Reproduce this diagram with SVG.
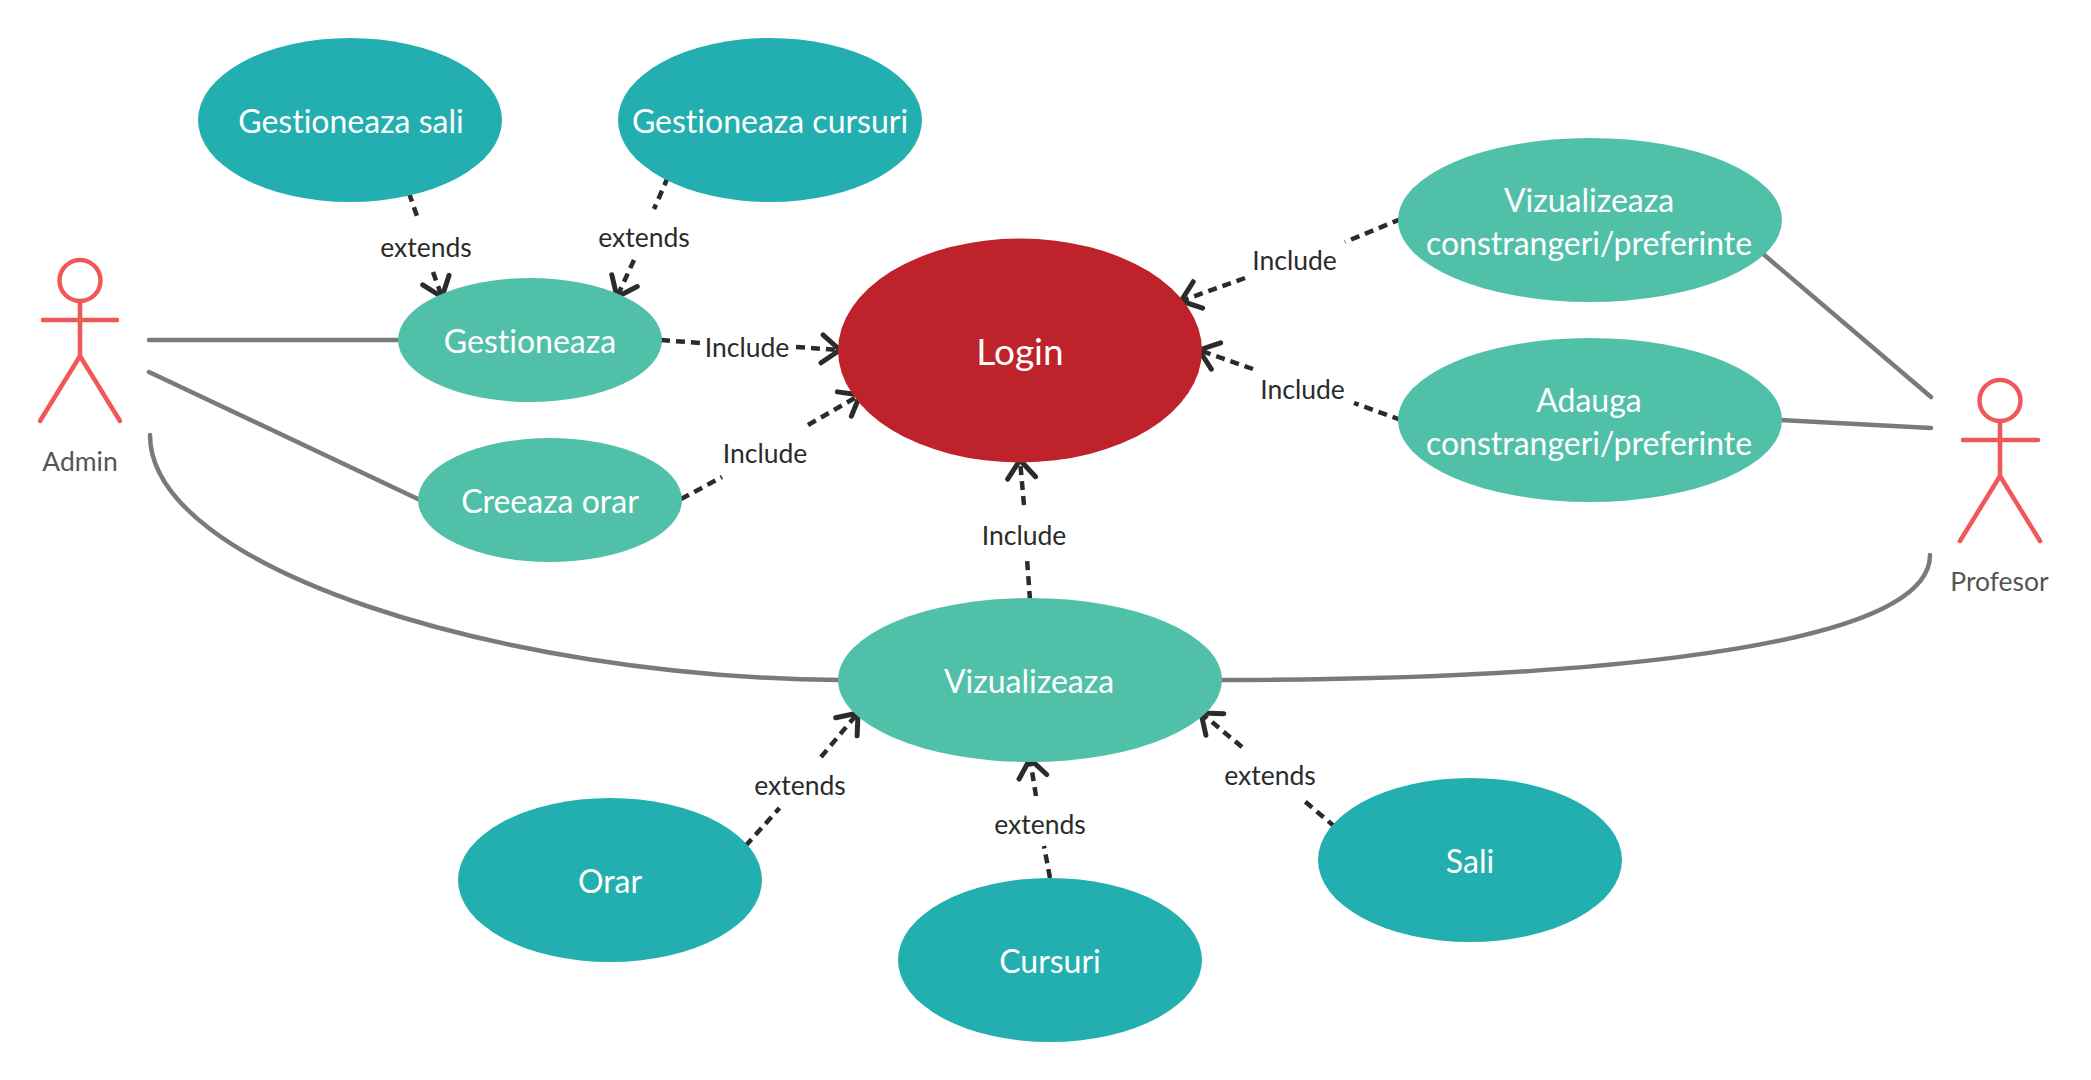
<svg xmlns="http://www.w3.org/2000/svg" width="2091" height="1080" viewBox="0 0 2091 1080">
<style>
text{font-family:Lato,"Open Sans","Liberation Sans",sans-serif;text-anchor:middle;font-variant-ligatures:none}
.t{fill:#fff;font-size:32px}
.l{fill:#2b2b2b;font-size:26.5px}
.a{fill:#555;font-size:26.5px}
.dark{fill:#23afaf}
.green{fill:#51c0a9}
.red{fill:#be222b}
.s{fill:none;stroke:#7a7a7a;stroke-width:4.5;stroke-linecap:round}
.d{fill:none;stroke:#2b2b2b;stroke-width:4.5;stroke-dasharray:9 6}
.actor{fill:none;stroke:#f25757;stroke-width:4.5;stroke-linecap:round}
.head{fill:none;stroke:#2b2b2b;stroke-width:5;stroke-linecap:round;stroke-linejoin:round}
</style>
<defs>
<marker id="o" markerUnits="userSpaceOnUse" markerWidth="40" markerHeight="40" viewBox="-30 -20 40 40" refX="0" refY="0" orient="auto" overflow="visible">
<path class="head" d="M-18 -14L0 0L-18 14"/>
</marker>
</defs>
<g id="connectors">
<path class="s" d="M149 340H400"/>
<path class="s" d="M149 372L420 500"/>
<path class="s" d="M150 435C150 568 500 677 840 680"/>
<path class="s" d="M1221 680C1500 680 1930 660 1930 555"/>
<path class="s" d="M1762 253L1931 397"/>
<path class="s" d="M1780 420L1931 428"/>
<path class="d" d="M409 193L418 219"/><path class="d" marker-end="url(#o)" d="M433 272L442 297"/>
<path class="d" d="M668 177L654 209"/><path class="d" marker-end="url(#o)" d="M634 260L617 297"/>
<path class="d" d="M661 340L700 343"/><path class="d" marker-end="url(#o)" d="M796 347L840 350"/>
<path class="d" d="M681 499L722 477"/><path class="d" marker-end="url(#o)" d="M808 425L860 395"/>
<path class="d" d="M1030 600L1027 559"/><path class="d" marker-end="url(#o)" d="M1024 505L1020 460"/>
<path class="d" d="M745.5 846L779.5 808"/><path class="d" marker-end="url(#o)" d="M821 757L858 713"/>
<path class="d" d="M1050 878L1044 846"/><path class="d" marker-end="url(#o)" d="M1036 796L1030 759"/>
<path class="d" d="M1335 827L1301 798"/><path class="d" marker-end="url(#o)" d="M1242 747L1201 713"/>
<path class="d" d="M1401 219L1345 242"/><path class="d" marker-end="url(#o)" d="M1245 278L1181 301"/>
<path class="d" d="M1401 420L1354 403"/><path class="d" marker-end="url(#o)" d="M1253 369L1199 350"/>
<text class="l" x="426" y="256.500">extends</text>
<text class="l" x="644" y="246.500">extends</text>
<text class="l" x="747" y="356.500">Include</text>
<text class="l" x="765" y="463">Include</text>
<text class="l" x="1024" y="544.500">Include</text>
<text class="l" x="800" y="794.500">extends</text>
<text class="l" x="1040" y="833.500">extends</text>
<text class="l" x="1270" y="784.500">extends</text>
<text class="l" x="1294.500" y="270">Include</text>
<text class="l" x="1302.500" y="398.500">Include</text>
</g>
<g id="admin"><ellipse class="actor" cx="80" cy="280.500" rx="20.500" ry="20.500"/><path class="actor" d="M80 301V356M43 320H117M80 356L40 421M80 356L120 421"/><text class="a" x="80" y="471">Admin</text></g>
<g id="profesor"><ellipse class="actor" cx="2000" cy="400.500" rx="20.500" ry="20.500"/><path class="actor" d="M2000 421V476M1963 440H2038M2000 476L1960 541M2000 476L2040 541"/><text class="a" x="1999.500" y="591">Profesor</text></g>
<g id="gest-sali"><ellipse class="dark" cx="350" cy="120" rx="152" ry="82"/><text class="t" x="351" y="132.500">Gestioneaza sali</text></g>
<g id="gest-cursuri"><ellipse class="dark" cx="770" cy="120" rx="152" ry="82"/><text class="t" x="770" y="132.500">Gestioneaza cursuri</text></g>
<g id="gestioneaza"><ellipse class="green" cx="530" cy="340" rx="132" ry="62"/><text class="t" x="530" y="352.500">Gestioneaza</text></g>
<g id="creeaza"><ellipse class="green" cx="550" cy="500" rx="132" ry="62"/><text class="t" x="550" y="512.500">Creeaza orar</text></g>
<g id="login"><ellipse class="red" cx="1020" cy="350.500" rx="182" ry="112"/><text class="t" style="font-size:37px" x="1020" y="364.500">Login</text></g>
<g id="vizualizeaza"><ellipse class="green" cx="1030" cy="680" rx="192" ry="82"/><text class="t" x="1029" y="692.500">Vizualizeaza</text></g>
<g id="viz-constr"><ellipse class="green" cx="1590" cy="220" rx="192" ry="82"/><text class="t" x="1589" y="211.500">Vizualizeaza</text><text class="t" x="1589" y="254.500">constrangeri/preferinte</text></g>
<g id="ad-constr"><ellipse class="green" cx="1590" cy="420" rx="192" ry="82"/><text class="t" x="1589" y="411.500">Adauga</text><text class="t" x="1589" y="454.500">constrangeri/preferinte</text></g>
<g id="orar"><ellipse class="dark" cx="610" cy="880" rx="152" ry="82"/><text class="t" x="610" y="892.500">Orar</text></g>
<g id="cursuri"><ellipse class="dark" cx="1050" cy="960" rx="152" ry="82"/><text class="t" x="1050" y="972.500">Cursuri</text></g>
<g id="sali"><ellipse class="dark" cx="1470" cy="860" rx="152" ry="82"/><text class="t" x="1470" y="872.500">Sali</text></g>
</svg>
